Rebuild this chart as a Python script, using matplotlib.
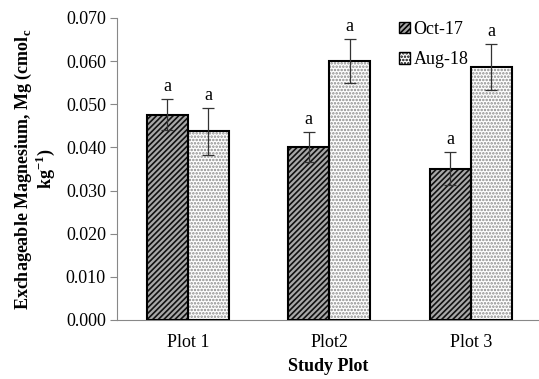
import matplotlib
matplotlib.use('Agg')
import matplotlib.pyplot as plt
from matplotlib.patches import Patch
import numpy as np

plt.rcParams['font.family'] = ['Liberation Serif', 'DejaVu Serif']
plt.rcParams['mathtext.fontset'] = 'custom'
plt.rcParams['mathtext.rm'] = 'Liberation Serif'
plt.rcParams['mathtext.bf'] = 'Liberation Serif:bold'
plt.rcParams['hatch.linewidth'] = 1.2

plots = ['Plot 1', 'Plot2', 'Plot 3']
oct17 = [0.0476, 0.0401, 0.0351]
aug18 = [0.0437, 0.0600, 0.0587]
oct17_err = [0.0036, 0.0035, 0.0038]
aug18_err = [0.0054, 0.0051, 0.0053]
letters_oct = ['a', 'a', 'a']
letters_aug = ['a', 'a', 'a']

fig = plt.figure(figsize=(5.39, 3.79), dpi=100)
ax = fig.add_axes([117/539, 59/379, 422/539, 302/379])

x = np.arange(len(plots))
w = 0.29

# patterned fills
ax.bar(x - w/2, oct17, w, color='#a8a8a8', edgecolor='#111111', hatch='//////', linewidth=0, zorder=2)
ax.bar(x + w/2, aug18, w, color='white', edgecolor='#8a8a8a', hatch='.....', linewidth=0, zorder=2)
# outlines
ax.bar(x - w/2, oct17, w, fill=False, edgecolor='black', linewidth=1.5, zorder=3)
ax.bar(x + w/2, aug18, w, fill=False, edgecolor='black', linewidth=1.5, zorder=3)

ax.errorbar(x - w/2, oct17, yerr=oct17_err, fmt='none', ecolor='#333333', elinewidth=0.9, capsize=4, capthick=0.9, zorder=4)
ax.errorbar(x + w/2, aug18, yerr=aug18_err, fmt='none', ecolor='#333333', elinewidth=0.9, capsize=4, capthick=0.9, zorder=4)

for i in range(len(plots)):
    ax.text(x[i] - w/2, oct17[i] + oct17_err[i] + 0.0010, letters_oct[i], ha='center', va='bottom', fontsize=13)
    ax.text(x[i] + w/2, aug18[i] + aug18_err[i] + 0.0010, letters_aug[i], ha='center', va='bottom', fontsize=13)

# legend
handles = [Patch(facecolor='#a8a8a8', edgecolor='black', hatch='//////', label='Oct-17'),
           Patch(facecolor='white', edgecolor='black', hatch='.....', label='Aug-18')]
ax.legend(handles=handles, loc='upper left', bbox_to_anchor=(0.63, 1.045), frameon=False,
          fontsize=13, handlelength=0.6, handleheight=0.6, handletextpad=0.2, labelspacing=0.75)

ax.set_xlim(-0.5, 2.482)
ax.set_ylim(0, 0.070)
ticks = np.arange(0, 0.0701, 0.010)
ax.set_yticks(ticks)
ax.set_yticklabels(['%.3f' % v for v in ticks], fontsize=13)
ax.set_xticks(x)
ax.set_xticklabels(plots, fontsize=13)
ax.tick_params(axis='x', length=0, pad=10)
ax.tick_params(axis='y', length=5, color='#888888', pad=3)

for s in ['top', 'right']:
    ax.spines[s].set_visible(False)
ax.spines['left'].set_color('#888888')
ax.spines['bottom'].set_color('#888888')

ax.set_xlabel('Study Plot', fontsize=13, fontweight='bold', labelpad=5)
ax.set_ylabel('Exchageable Magnesium, Mg (cmol$_\\mathbf{c}$\nkg$^{\\mathbf{-1}}$)',
              fontsize=13, fontweight='bold', linespacing=1.0, labelpad=6)

fig.savefig('out.png', dpi=100)
